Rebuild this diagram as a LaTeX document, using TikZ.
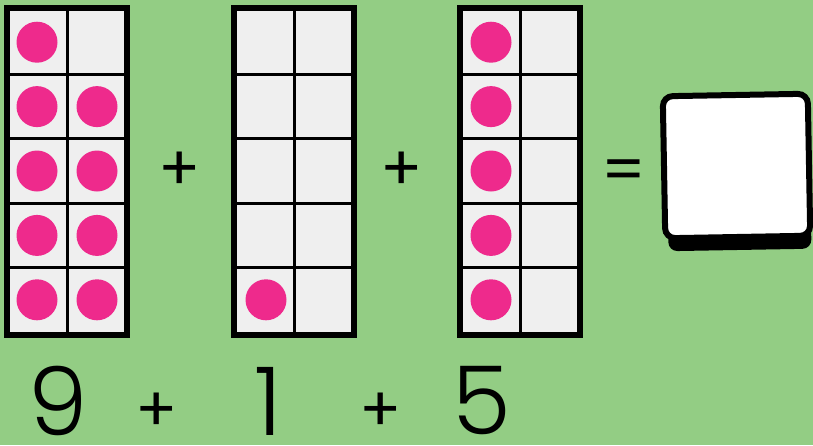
\documentclass[tikz,border=0pt]{standalone}
\usepackage{fontspec}
\newfontfamily\numfont{Poppins Light}
\newfontfamily\signfont{Poppins}
\definecolor{bggreen}{HTML}{93CD84}
\definecolor{dotpink}{HTML}{EE2A8C}
\definecolor{cellgray}{HTML}{EFEFEF}
\tikzset{
  frameline/.style={line width=6pt},
  gridline/.style={line width=3pt},
  counter/.style={fill=dotpink},
  sign/.style={font=\signfont\fontsize{62}{62}\selectfont, inner sep=0pt},
  numeral/.style={font=\numfont\fontsize{95}{95}\selectfont, inner sep=0pt}
}
\begin{document}
\begin{tikzpicture}[x=1pt, y=-1pt]
    \fill[bggreen] (0,0) rectangle (813,445);
    \useasboundingbox (0,0) rectangle (813,445);

    % ten frames
    \foreach \fx in {4,231,457} {
        \fill[cellgray] (\fx+3,8) rectangle (\fx+123,335);
        \foreach \r in {1,...,4}
            \draw[gridline] (\fx+3,{10+64.4*\r}) -- (\fx+123,{10+64.4*\r});
        \draw[gridline] (\fx+63,8) -- (\fx+63,335);
        \draw[frameline] (\fx+3,8) rectangle (\fx+123,335);
    }

    % counters
    \foreach \r in {1,...,5} {
        \fill[counter] (37,{10+64.4*(\r-0.5)}) circle (20.5);
        \fill[counter] (491,{10+64.4*(\r-0.5)}) circle (20.5);
    }
    \foreach \r in {2,...,5}
        \fill[counter] (97,{10+64.4*(\r-0.5)}) circle (20.5);
    \fill[counter] (266,{10+64.4*4.5}) circle (20.5);

    \node[sign] (plusA) at (180,171) {+};
    \node[sign] (plusB) at (402,171) {+};
    \node[sign] (equals) at (624,176) {=};

    % answer box
    \begin{scope}[rotate around={1:(736,166)}]
        \fill[black, rounded corners=9pt] (667,100) rectangle (810,250);
        \filldraw[fill=white, line width=6pt, rounded corners=10pt] (664,95) rectangle (809,237);
    \end{scope}

    \node[numeral] (nine) at (58,401) {9};
    \node[sign] (plusC) at (157,412) {+};
    \node[numeral] (one) at (268,401) {1};
    \node[sign] (plusD) at (381,412) {+};
    \node[numeral] (five) at (482,401) {5};
\end{tikzpicture}
\end{document}
